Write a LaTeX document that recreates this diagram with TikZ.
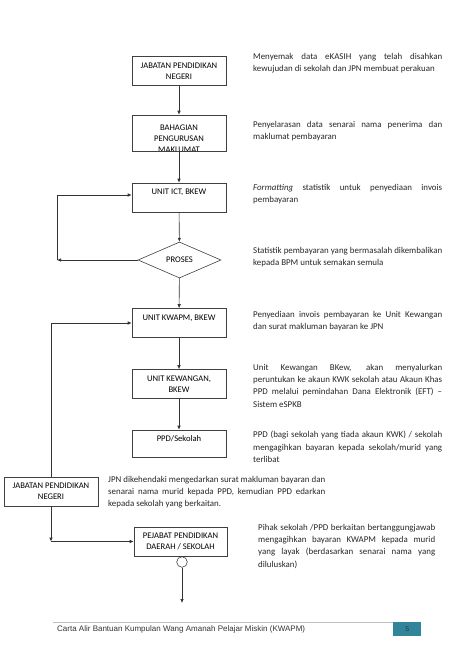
\documentclass[tikz,border=0pt]{standalone}
\usepackage{fontspec}
\setmainfont{Carlito}
\newfontfamily\footfont{Liberation Sans}
\usetikzlibrary{arrows.meta,shapes.geometric,positioning}

\definecolor{pagenum}{RGB}{49,133,155}

\newcommand{\nohyph}{\hyphenpenalty=10000\exhyphenpenalty=10000\tolerance=10000\hbadness=10000}

\tikzset{
  flowbox/.style={draw=black!75, line width=0.6pt, minimum width=94pt, minimum height=29pt,
    inner sep=0pt, align=center, font=\fontsize{8.6}{10.6}\selectfont},
  boxtext/.style={inner sep=0pt, align=center, font=\fontsize{8.6}{10.8}\selectfont},
  note/.style={anchor=north west, inner sep=0pt, text width=189pt, align=justify,
    font=\fontsize{8.9}{12.3}\selectfont\nohyph, text=black!85},
  flow/.style={-{Latex[length=4pt,width=3.5pt]}, line width=0.6pt, draw=black!80},
}

\begin{document}
\begin{tikzpicture}[x=1pt, y=-1pt]
  \useasboundingbox (0,0) rectangle (474,670);

  % main column
  \node[flowbox] (jpn) at (179,71) {JABATAN PENDIDIKAN\\NEGERI};
  \begin{scope}
    \clip (132,115) rectangle (226,151);
    \node[boxtext] (bpmtext) at (179,139) {BAHAGIAN\\PENGURUSAN\\MAKLUMAT};
  \end{scope}
  \node[flowbox, minimum height=36pt] (bpm) at (179,133) {};
  \node[flowbox] (ict) at (179,197.5) {UNIT ICT, BKEW\\~};
  \node[draw=black!75, line width=0.6pt, diamond, minimum width=83pt, minimum height=36pt,
    inner sep=0pt, font=\fontsize{8.6}{10.6}\selectfont] (proses) at (179.5,260) {PROSES};
  \node[flowbox] (kwapm) at (179,323) {UNIT KWAPM, BKEW\\~};
  \node[flowbox] (kew) at (179,384) {UNIT KEWANGAN,\\BKEW};
  \node[flowbox, minimum height=27pt] (ppd) at (179,443.5) {PPD/Sekolah\\~};
  \node[flowbox] (jpnb) at (51,491.5) {JABATAN PENDIDIKAN\\NEGERI};
  \node[flowbox, minimum width=93pt] (ppdd) at (180.5,541.5) {PEJABAT PENDIDIKAN\\DAERAH / SEKOLAH};
  \node[draw=black!75, line width=0.6pt, circle, minimum size=10.6pt, inner sep=0pt] (endc) at (182,562) {};

  \coordinate (backL) at (57,260);
  \coordinate (corner) at (51,541.5);
  \coordinate (endp) at (182,603);

  % connectors
  \draw[flow] (jpn) -- (bpm);
  \draw[flow] (bpm) -- (ict);
  \draw[flow] (ict) -- (proses);
  \draw[flow] (proses.west) -- (backL);
  \draw[flow] (backL) |- ([yshift=2.5pt]ict.west);
  \draw[flow] (proses) -- (kwapm);
  \draw[flow] (kwapm) -- (kew);
  \draw[flow] (kew) -- (ppd);
  \draw[flow] (jpnb.north) |- (kwapm.west);
  \draw[flow] (jpnb) -- (corner);
  \draw[flow] (corner) -- (ppdd.west);
  \draw[flow] (endc) -- (endp);

  % notes
  \node[note] (n1) at (253,53) {Menyemak data eKASIH yang telah disahkan \linebreak kewujudan di sekolah dan JPN membuat perakuan};
  \node[note] (n2) at (253,121) {Penyelarasan data senarai nama penerima dan \linebreak maklumat pembayaran};
  \node[note] (n3) at (253,184) {\emph{Formatting} statistik untuk penyediaan invois \linebreak pembayaran};
  \node[note] (n4) at (253,247) {Statistik pembayaran yang bermasalah dikembalikan \linebreak kepada BPM untuk semakan semula};
  \node[note] (n5) at (253,311) {Penyediaan invois pembayaran ke Unit Kewangan \linebreak dan surat makluman bayaran ke JPN};
  \node[note] (n6) at (253,364) {Unit Kewangan BKew, akan menyalurkan \linebreak peruntukan ke akaun KWK sekolah atau Akaun Khas \linebreak PPD melalui pemindahan Dana Elektronik (EFT) -- \linebreak Sistem eSPKB};
  \node[note] (n7) at (253,431) {PPD (bagi sekolah yang tiada akaun KWK) / sekolah \linebreak mengagihkan bayaran kepada sekolah/murid yang \linebreak terlibat};
  \node[note, text width=217pt] (n8) at (108,476) {JPN dikehendaki mengedarkan surat makluman bayaran dan \linebreak senarai nama murid kepada PPD, kemudian PPD edarkan \linebreak kepada sekolah yang berkaitan.};
  \node[note, text width=177pt] (n9) at (258,524) {Pihak sekolah /PPD berkaitan bertanggungjawab \linebreak mengagihkan bayaran KWAPM kepada murid \linebreak yang layak (berdasarkan senarai nama yang \linebreak diluluskan)};

  % footer
  \draw[black!25, line width=0.9pt] (53,622) -- (393,622);
  \node[fill=pagenum, minimum width=28pt, minimum height=14pt, inner sep=0pt, anchor=north west,
    font=\footfont\fontsize{7}{8}\selectfont, text=black!80] (pg) at (393,622) {5};
  \node[anchor=west, inner sep=0pt, font=\footfont\fontsize{8}{9}\selectfont, text=black!80] (foot) at (57,629)
    {Carta Alir Bantuan Kumpulan Wang Amanah Pelajar Miskin (KWAPM)};
\end{tikzpicture}
\end{document}
